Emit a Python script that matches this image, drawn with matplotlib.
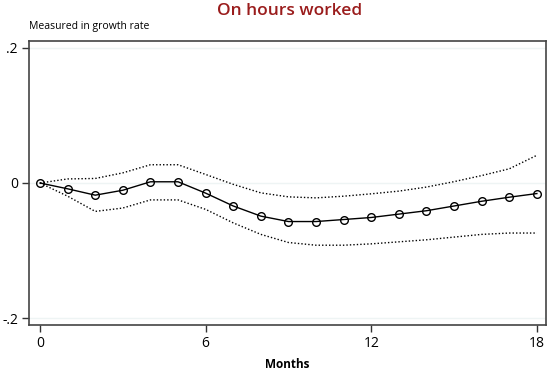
import numpy as np
import matplotlib.pyplot as plt

plt.rcParams['font.family'] = ['Open Sans', 'DejaVu Sans']

months = list(range(19))
irf = [0.0, -0.0086, -0.018, -0.0107, 0.0018, 0.0018, -0.015, -0.034, -0.049, -0.057,
       -0.057, -0.054, -0.051, -0.046, -0.041, -0.034, -0.027, -0.021, -0.0156]
upper = [0.0, 0.006, 0.0067, 0.015, 0.027, 0.027, 0.0126, -0.002, -0.0146, -0.0205,
         -0.022, -0.0195, -0.016, -0.012, -0.006, 0.002, 0.011, 0.021, 0.041]
lower = [0.0, -0.0195, -0.042, -0.037, -0.025, -0.025, -0.039, -0.059, -0.076, -0.088,
         -0.092, -0.092, -0.090, -0.087, -0.084, -0.080, -0.076, -0.074, -0.074]
xticks = [0, 6, 12, 18]
yticks = [-0.2, 0, 0.2]
ytick_labels = ['-.2', '0', '.2']

fig = plt.figure(figsize=(5.5, 3.7), dpi=100)
ax = fig.add_axes([29/550, 1 - 325/370, 517/550, 284/370])

for y in yticks:
    ax.axhline(y, color='#eef4f4', lw=1.0, zorder=0)

ax.plot(months, upper, color='black', lw=1.0, linestyle=(0, (1, 1.5)))
ax.plot(months, lower, color='black', lw=1.0, linestyle=(0, (1, 1.5)))
ax.plot(months, irf, color='black', lw=1.0, marker='o', markersize=5.5,
        markerfacecolor='none', markeredgecolor='black', markeredgewidth=1.0)

ax.set_xlim(-0.4, 18.33)
ax.set_ylim(-0.21, 0.21)
ax.set_xticks(xticks)
ax.set_xticklabels([str(t) for t in xticks], fontsize=10)
ax.set_yticks(yticks)
ax.set_yticklabels(ytick_labels, fontsize=10)
ax.tick_params(direction='out', length=5, width=1, color='#333333', pad=3)
for s in ax.spines.values():
    s.set_color('#444444')
    s.set_linewidth(1.2)

ax.set_xlabel('Months', fontsize=8.5, fontweight='bold', labelpad=5)
fig.text(290/550, 1 - 11/370, 'On hours worked', ha='center', va='center',
         fontsize=12.5, fontweight='semibold', color='#9a1c1c')
fig.text(29/550, 1 - 27/370, 'Measured in growth rate', ha='left', va='center',
         fontsize=7.5)

fig.savefig('out.png', dpi=100)
